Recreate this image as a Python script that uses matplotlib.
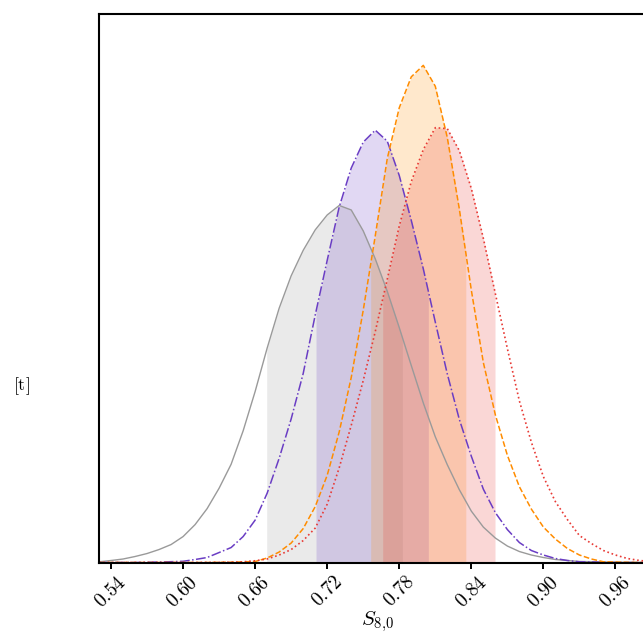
import numpy as np
import matplotlib
matplotlib.use("Agg")
import matplotlib.pyplot as plt
from matplotlib.ticker import FixedLocator, FuncFormatter

plt.rcParams['mathtext.fontset'] = 'cm'
plt.rcParams['font.family'] = ['DejaVu Serif']

# ---- data ----
tick_values = [0.54, 0.60, 0.66, 0.72, 0.78, 0.84, 0.90, 0.96]
xlabel_text = r'$S_{8{,}0}$'
ylabel_text = r'$\mathrm{[t]}$'

# common S8,0 grid (0.53 ... 0.99, step 0.01)
s8_grid = [0.53, 0.54, 0.55, 0.56, 0.57, 0.58, 0.59, 0.60, 0.61, 0.62,
           0.63, 0.64, 0.65, 0.66, 0.67, 0.68, 0.69, 0.70, 0.71, 0.72,
           0.73, 0.74, 0.75, 0.76, 0.77, 0.78, 0.79, 0.80, 0.81, 0.82,
           0.83, 0.84, 0.85, 0.86, 0.87, 0.88, 0.89, 0.90, 0.91, 0.92,
           0.93, 0.94, 0.95, 0.96, 0.97, 0.98, 0.99]

# relative posterior heights (orange peak = 1)
gray_p = [0.0014, 0.004, 0.007, 0.012, 0.018, 0.026, 0.036, 0.052, 0.076, 0.108,
          0.149, 0.197, 0.264, 0.343, 0.430, 0.510, 0.575, 0.626, 0.667, 0.697,
          0.716, 0.707, 0.665, 0.609, 0.544, 0.471, 0.395, 0.320, 0.252, 0.196,
          0.146, 0.103, 0.071, 0.049, 0.033, 0.022, 0.015, 0.010, 0.006, 0.004,
          0.002, 0.0016, 0.001, 0.0006, 0.0003, 0.0001, 0.0]

purple_p = [0.0, 0.0, 0.0, 0.0, 0.0005, 0.001, 0.0016, 0.0024, 0.006, 0.010,
            0.020, 0.030, 0.052, 0.085, 0.139, 0.209, 0.288, 0.379, 0.496, 0.606,
            0.713, 0.791, 0.843, 0.867, 0.845, 0.776, 0.686, 0.589, 0.482, 0.378,
            0.287, 0.213, 0.147, 0.100, 0.066, 0.040, 0.024, 0.015, 0.008, 0.004,
            0.0014, 0.001, 0.0004, 0.0, 0.0, 0.0, 0.0]

orange_p = [0.0, 0.0, 0.0, 0.0, 0.0, 0.0, 0.0, 0.0, 0.0, 0.0,
            0.0004, 0.0006, 0.0013, 0.002, 0.009, 0.021, 0.039, 0.068, 0.112, 0.175,
            0.262, 0.371, 0.506, 0.655, 0.810, 0.912, 0.974, 0.997, 0.955, 0.852,
            0.709, 0.546, 0.401, 0.296, 0.215, 0.152, 0.107, 0.071, 0.047, 0.028,
            0.015, 0.007, 0.0014, 0.001, 0.0004, 0.0, 0.0]

red_p = [0.0, 0.0, 0.0, 0.0, 0.0, 0.0, 0.0, 0.0, 0.0, 0.0002,
         0.0004, 0.0006, 0.0014, 0.0035, 0.007, 0.015, 0.026, 0.044, 0.069, 0.117,
         0.190, 0.275, 0.365, 0.463, 0.568, 0.675, 0.764, 0.828, 0.872, 0.870,
         0.826, 0.750, 0.650, 0.539, 0.429, 0.324, 0.241, 0.172, 0.122, 0.086,
         0.054, 0.038, 0.024, 0.015, 0.008, 0.004, 0.002]

# shaded credible intervals (lower, upper)
gray_ci = (0.6696, 0.7826)
purple_ci = (0.7107, 0.8042)
orange_ci = (0.7562, 0.8354)
red_ci = (0.7662, 0.8597)

# ---- figure ----
fig = plt.figure(figsize=(6.43, 6.35), dpi=100)
ax = fig.add_axes([99 / 643, 1 - 562.5 / 635, 552.5 / 643, 548.5 / 635])

grid = np.asarray(s8_grid)
series = [
    (gray_p, gray_ci, '#9a9a9a', '-', 1.0),
    (purple_p, purple_ci, '#6a3dc4', '-.', 1.1),
    (orange_p, orange_ci, '#ff8c00', '--', 1.1),
    (red_p, red_ci, '#e83a35', ':', 1.2),
]

for ys, (lo, hi), col, ls, lw in series:
    ys = np.asarray(ys)
    inner = grid[(grid > lo) & (grid < hi)]
    fx = np.concatenate([[lo], inner, [hi]])
    fy = np.interp(fx, grid, ys)
    ax.fill_between(fx, 0, fy, color=col, alpha=0.2, linewidth=0)

for ys, ci, col, ls, lw in series:
    ax.plot(grid, ys, color=col, linestyle=ls, linewidth=lw)

ax.set_xlim(0.53, 0.99)
ax.set_ylim(0, 1.1)
ax.xaxis.set_major_locator(FixedLocator(tick_values))
ax.xaxis.set_major_formatter(FuncFormatter(lambda v, p: r'$%.2f$' % v))
ax.set_yticks([])
for lab in ax.get_xticklabels():
    lab.set_rotation(45)
ax.tick_params(axis='x', labelsize=14, length=4, width=1.4, direction='out')

for sp in ax.spines.values():
    sp.set_linewidth(1.5)

ax.set_xlabel(xlabel_text, fontsize=15)
ax.xaxis.set_label_coords((377 - 99) / 552.5, (562.5 - 622) / 548.5)
ax.xaxis.label.set_va('center')
ax.set_ylabel(ylabel_text, fontsize=13, rotation=0)
ax.yaxis.set_label_coords((21.4 - 99) / 552.5, (562.5 - 386) / 548.5)
ax.yaxis.label.set_va('center')
ax.yaxis.label.set_ha('center')

fig.savefig('out.png', dpi=100)
